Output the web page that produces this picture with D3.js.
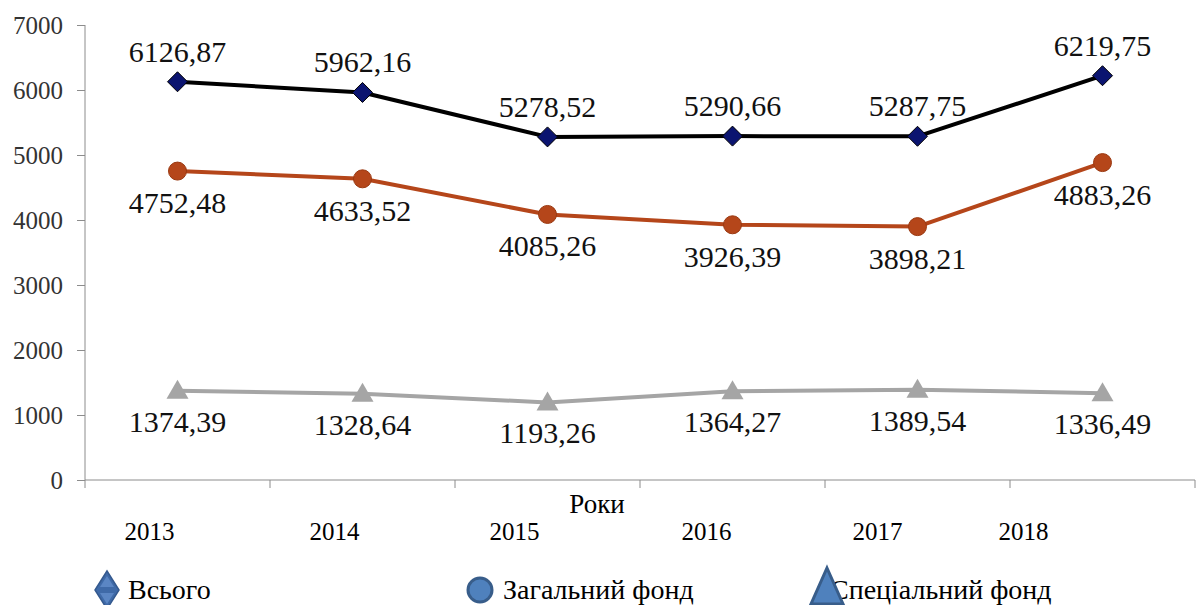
<!DOCTYPE html>
<html><head><meta charset="utf-8">
<script src="https://cdn.jsdelivr.net/npm/d3@7"></script>
</head><body style="margin:0"><svg id="c" width="1202" height="605" style="display:block"></svg>
<script>
const years = ["2013","2014","2015","2016","2017","2018"];
const total = [6126.87,5962.16,5278.52,5290.66,5287.75,6219.75];
const general = [4752.48,4633.52,4085.26,3926.39,3898.21,4883.26];
const special = [1374.39,1328.64,1193.26,1364.27,1389.54,1336.49];
const yTicks = [0,1000,2000,3000,4000,5000,6000,7000];
const axisTitle = "Роки";
const legendNames = ["Всього","Загальний фонд","Спеціальний фонд"];

// layout
const FONT = '"Liberation Serif"';
const yearLabelShift = [-28,-28,-33,-26,-40,-79];
const svg = d3.select("#c");
const x = d3.scaleBand().domain(years).range([85,1195]);
const y = d3.scaleLinear().domain([0,7000]).range([480,25]);
const cx = d => x(d) + x.bandwidth()/2;
const fmt = v => v.toFixed(2).replace(".", ",");
const txt = sel => sel.style("font-family",FONT);

// y axis
const ya = svg.append("g").attr("transform","translate(85,0)")
  .call(d3.axisLeft(y).tickValues(yTicks).tickSize(8).tickPadding(14).tickFormat(d=>d));
ya.select(".domain").attr("stroke","#8c8c8c").attr("d","M0,25V480");
ya.selectAll(".tick line").attr("stroke","#8c8c8c");
ya.selectAll("text").call(txt).style("font-size","25px").attr("fill","#333");

// x axis
const xa = svg.append("g").attr("transform","translate(0,480)")
  .call(d3.axisBottom(x).tickSize(0).tickFormat(""));
xa.select(".domain").attr("stroke","#8c8c8c").attr("d","M85,0H1195");
const bounds = years.map(d=>x(d)).concat([x.range()[1]]);
xa.selectAll(".bt").data(bounds).enter().append("line")
  .attr("x1",d=>d).attr("x2",d=>d).attr("y1",0).attr("y2",8).attr("stroke","#8c8c8c");

svg.selectAll(".yl").data(years).enter().append("text")
  .attr("x",(d,i)=>cx(d)+yearLabelShift[i]).attr("y",540)
  .attr("text-anchor","middle").call(txt).style("font-size","25px")
  .attr("fill","#000").text(d=>d);
svg.append("text").attr("x",597).attr("y",513).attr("text-anchor","middle")
  .call(txt).style("font-size","27px").text(axisTitle);

const line = d3.line().x((d,i)=>cx(years[i])).y(d=>y(d));

function series(vals, color, width, markerFn, labelDy){
  svg.append("path").datum(vals).attr("d",line).attr("fill","none")
    .attr("stroke",color).attr("stroke-width",width).attr("stroke-linejoin","round");
  const g = svg.append("g");
  vals.forEach((v,i)=>markerFn(g, cx(years[i]), y(v)));
  svg.selectAll(null).data(vals).enter().append("text")
    .attr("x",(d,i)=>cx(years[i])).attr("y",d=>y(d)+labelDy)
    .attr("text-anchor","middle").call(txt).style("font-size","30px")
    .attr("fill","#111").text(fmt);
}

series(special,"#a5a5a5",4,(g,px,py)=>{
  g.append("path").attr("d",`M${px},${py-11}L${px+11},${py+8}L${px-11},${py+8}Z`)
   .attr("fill","#a5a5a5");
},41);
series(general,"#b5461a",4,(g,px,py)=>{
  g.append("circle").attr("cx",px).attr("cy",py).attr("r",9)
   .attr("fill","#b5461a").attr("stroke","#9a3810").attr("stroke-width",1);
},42);
series(total,"#000",4,(g,px,py)=>{
  g.append("path").attr("d",`M${px},${py-10}L${px+10},${py}L${px},${py+10}L${px-10},${py}Z`)
   .attr("fill","#0b1470").attr("stroke","#000").attr("stroke-width",1);
},-20);

// legend
const lg = svg.append("g");
lg.append("path").attr("d","M107,571L119,590L107,609L95,590Z")
  .attr("fill","#3f6aa8").attr("stroke","#34598f").attr("stroke-width",1.5);
lg.append("path").attr("d","M107,576L114,587L100,587Z").attr("fill","#5b86c4");
lg.append("path").attr("d","M107,604L114,593L100,593Z").attr("fill","#5b86c4");
lg.append("circle").attr("cx",480).attr("cy",590).attr("r",12)
  .attr("fill","#4f81bd").attr("stroke","#385d8a").attr("stroke-width",3);
const lx = [128,503,830];
legendNames.forEach((n,i)=>{
  lg.append("text").attr("x",lx[i]).attr("y",599)
    .call(txt).style("font-size","28px").attr("fill","#000").text(n);
});
lg.append("path").attr("d","M827,568L843,604L811,604Z")
  .attr("fill","#4f81bd").attr("stroke","#385d8a").attr("stroke-width",3);
</script></body></html>
